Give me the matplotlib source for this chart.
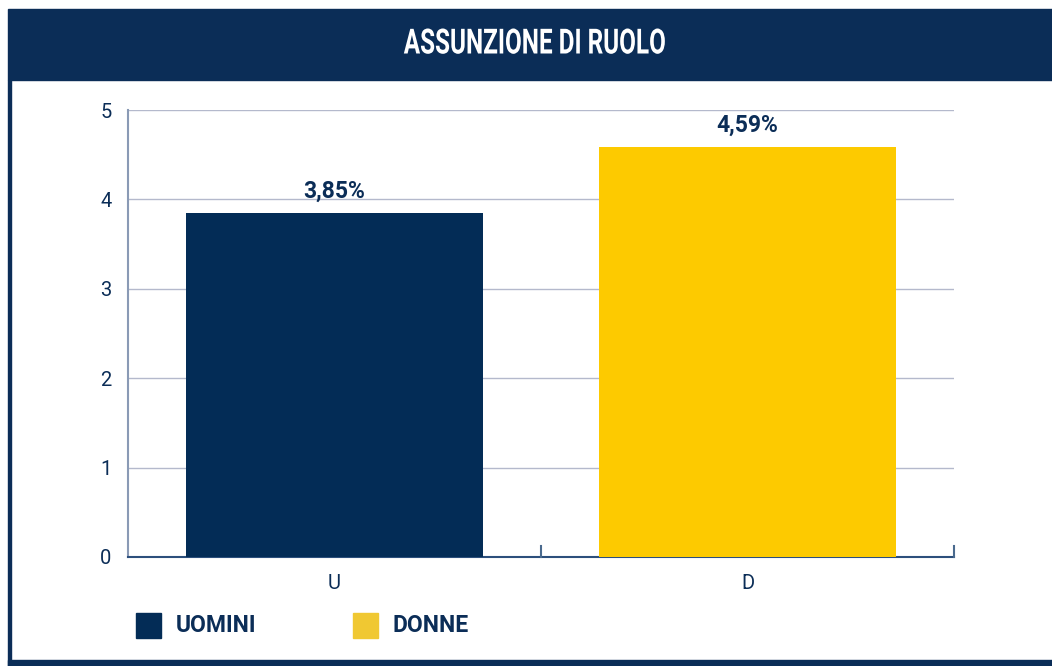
import matplotlib.pyplot as plt
from matplotlib.patches import Rectangle
from matplotlib.patheffects import AbstractPathEffect
from matplotlib.transforms import Affine2D

navy = "#0b2d57"
bar_navy = "#032c56"
yellow = "#fdca00"
legend_yellow = "#f0c832"
grid_col = "#b4b9cc"

categories = ["U", "D"]
values = [3.85, 4.59]
value_labels = ["3,85%", "4,59%"]
legend_names = ["UOMINI", "DONNE"]
title = "ASSUNZIONE DI RUOLO"

plt.rcParams["font.family"] = ["Roboto", "DejaVu Sans"]

W, H = 1052, 666
fig = plt.figure(figsize=(W / 100, H / 100), dpi=100)


class Narrow(AbstractPathEffect):
    """Squeeze glyphs horizontally around a fixed x (display pixels)."""

    def __init__(self, cx, sx):
        super().__init__()
        self.cx = cx
        self.sx = sx

    def draw_path(self, renderer, gc, tpath, affine, rgbFace=None):
        squeeze = Affine2D().translate(-self.cx, 0).scale(self.sx, 1).translate(self.cx, 0)
        renderer.draw_path(gc, tpath, affine + squeeze, rgbFace)


def px(x0, y0, w, h):
    # pixel box (top-left origin) -> figure fraction
    return [x0 / W, 1 - (y0 + h) / H, w / W, h / H]

# header band, left frame line and bottom band
fig.patches.append(Rectangle((8 / W, 1 - 80 / H), 1 - 8 / W, 71 / H,
                             transform=fig.transFigure, color=navy, zorder=0))
fig.patches.append(Rectangle((8 / W, 0), 2.5 / W, 1 - 80 / H,
                             transform=fig.transFigure, color=navy, zorder=0))
fig.patches.append(Rectangle((8 / W, 0), 1 - 8 / W, 6 / H,
                             transform=fig.transFigure, color=navy, zorder=0))
title_x = 535
fig.text(title_x / W, 1 - 44 / H, title, ha="center", va="center", color="white",
         fontsize=25, fontweight="bold",
         path_effects=[Narrow(title_x, 0.70)])

ax = fig.add_axes(px(128, 110, 826, 447))
x = list(range(len(categories)))
ax.bar(x, values, width=0.72, color=[bar_navy, yellow], zorder=3)
for xi, v, lab in zip(x, values, value_labels):
    ax.text(xi, v + 0.11, lab, ha="center", va="bottom", color=navy,
            fontsize=16.5, fontweight="bold")

ax.set_xlim(-0.5, 1.5)
ax.set_ylim(0, 5)
ax.set_yticks(range(6))
ax.yaxis.grid(True, color=grid_col, linewidth=1, zorder=0)
ax.set_xticks(x)
ax.set_xticklabels(categories)
ax.tick_params(axis="both", colors=navy, labelsize=14.5, length=0)
ax.tick_params(axis="x", pad=12)
ax.tick_params(axis="y", pad=12)

# separators on the category axis
for xs in [0.5, 1.5]:
    ax.plot([xs, xs], [0, 0.12], color="#4a6a8e", linewidth=1.5, zorder=4,
            clip_on=False)

for s in ["top", "right"]:
    ax.spines[s].set_visible(False)
ax.spines["left"].set_color("#8a9ab5")
ax.spines["left"].set_linewidth(1.5)
ax.spines["bottom"].set_color("#2c4f7c")
ax.spines["bottom"].set_linewidth(1.5)

# legend
leg_colors = [bar_navy, legend_yellow]
leg_x = [136, 353]
for lx, c, name in zip(leg_x, leg_colors, legend_names):
    fig.patches.append(Rectangle((lx / W, 1 - 638 / H), 25 / W, 25 / H,
                                 transform=fig.transFigure, color=c))
    fig.text((lx + 40) / W, 1 - 626 / H, name, ha="left", va="center",
             color=navy, fontsize=16.5, fontweight="bold")

fig.savefig("out.png", dpi=100)
